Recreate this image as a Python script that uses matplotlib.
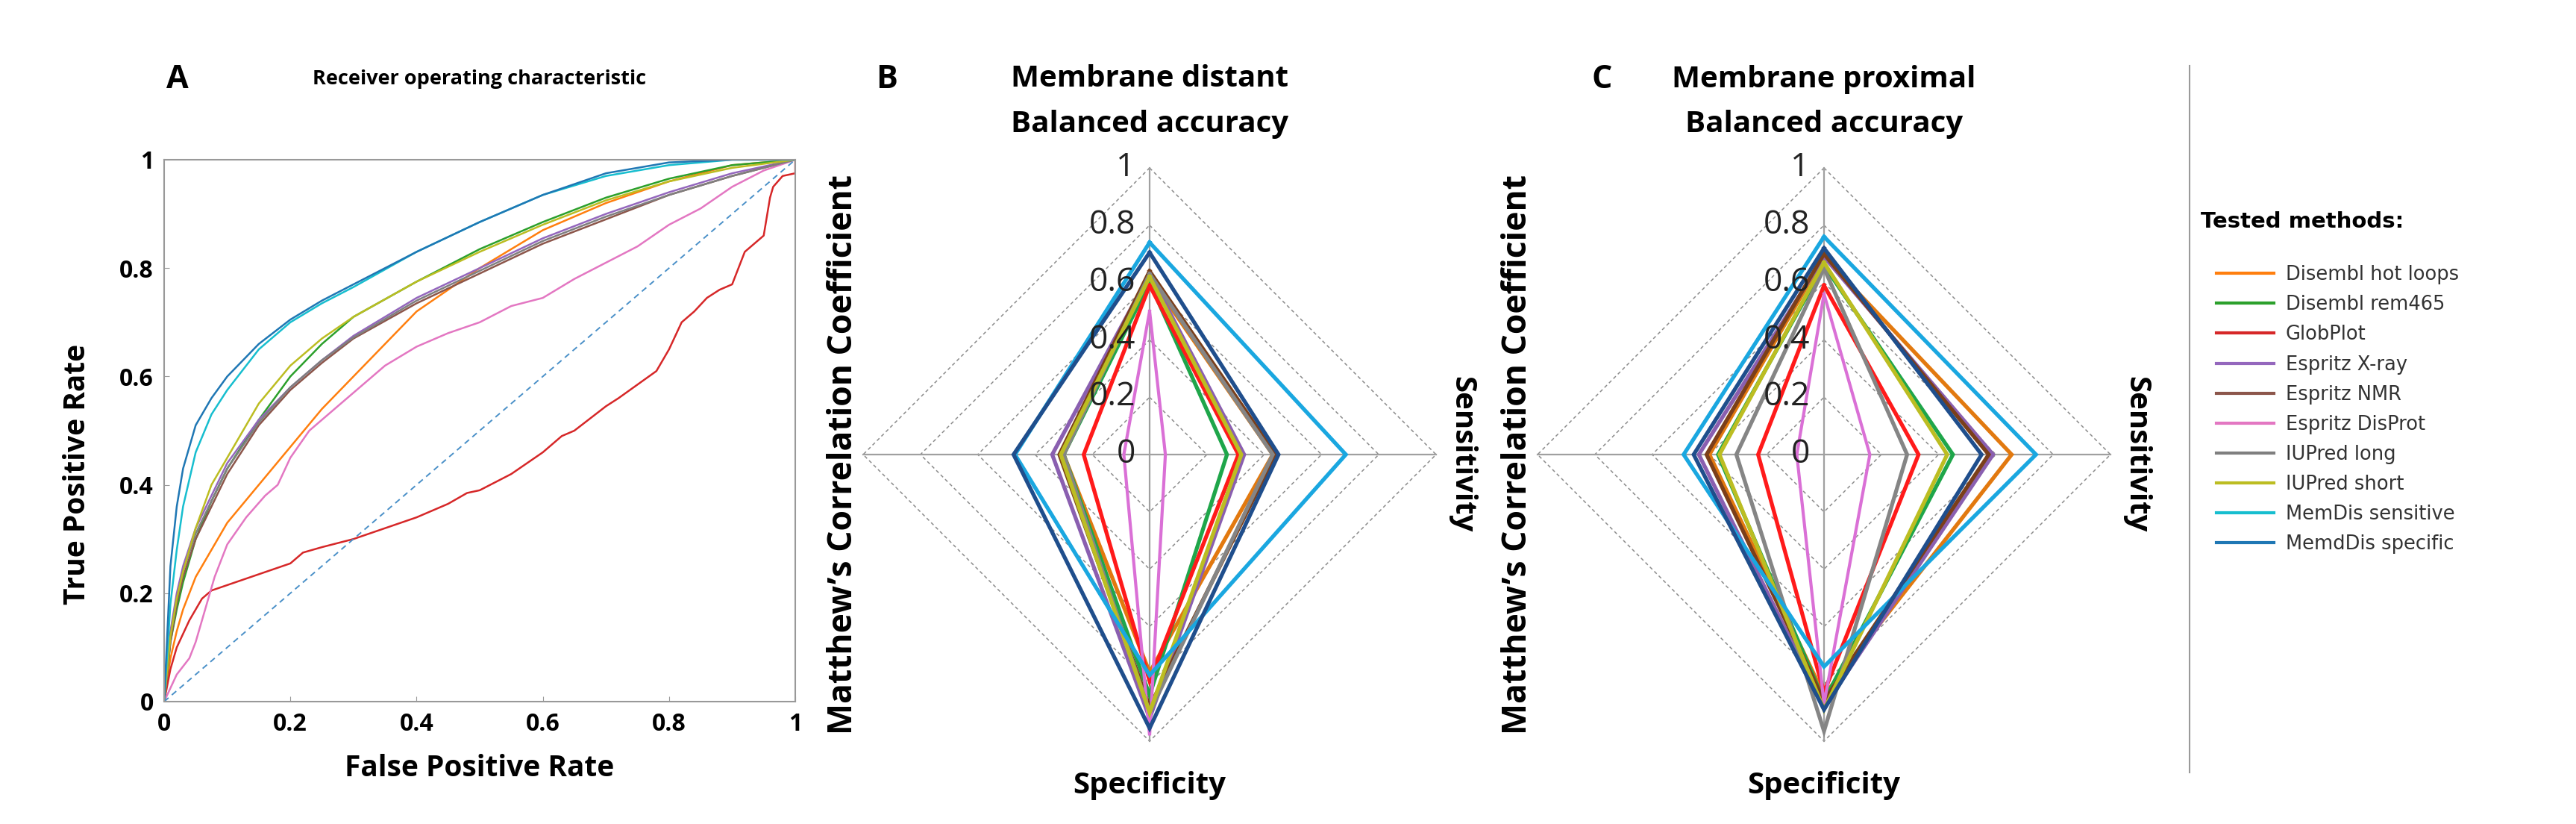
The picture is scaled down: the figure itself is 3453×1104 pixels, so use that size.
import matplotlib
matplotlib.use("Agg")
import matplotlib.pyplot as plt
import numpy as np

W, H = 3453, 1104

methods = ["Disembl hot loops", "Disembl rem465", "GlobPlot", "Espritz X-ray",
           "Espritz NMR", "Espritz DisProt", "IUPred long", "IUPred short",
           "MemDis sensitive", "MemdDis specific"]
roc_colors = ["tab:orange", "tab:green", "tab:red", "tab:purple", "tab:brown",
              "tab:pink", "tab:gray", "tab:olive", "tab:cyan", "tab:blue"]
radar_colors = ["#e2790f", "#1fa64a", "#ff1a1a", "#8a5fb0", "#7b3f1a",
                "#da70d6", "#858585", "#bcbd22", "#1aa7e0", "#1f4e8c"]

# ROC curves (FPR, TPR)
fpr_grid = [0, 0.01, 0.02, 0.03, 0.05, 0.075, 0.1, 0.15, 0.2, 0.25, 0.3,
            0.4, 0.5, 0.6, 0.7, 0.8, 0.9, 1.0]
tpr_hot_loops = [0, 0.08, 0.13, 0.17, 0.23, 0.28, 0.33, 0.40, 0.47, 0.54, 0.60,
                 0.72, 0.80, 0.87, 0.92, 0.96, 0.99, 1.0]
tpr_rem465 = [0, 0.11, 0.17, 0.22, 0.30, 0.37, 0.43, 0.52, 0.60, 0.66, 0.71,
              0.775, 0.835, 0.885, 0.93, 0.965, 0.99, 1.0]
tpr_xray = [0, 0.13, 0.20, 0.25, 0.32, 0.38, 0.44, 0.52, 0.58, 0.63, 0.675,
            0.745, 0.80, 0.855, 0.90, 0.94, 0.975, 1.0]
tpr_nmr = [0, 0.11, 0.18, 0.23, 0.30, 0.36, 0.42, 0.51, 0.575, 0.625, 0.67,
           0.735, 0.79, 0.845, 0.89, 0.935, 0.97, 1.0]
tpr_iupred_long = [0, 0.12, 0.19, 0.24, 0.31, 0.37, 0.43, 0.515, 0.58, 0.63, 0.672,
                   0.74, 0.795, 0.85, 0.895, 0.935, 0.97, 1.0]
tpr_iupred_short = [0, 0.12, 0.19, 0.24, 0.32, 0.40, 0.45, 0.55, 0.62, 0.67, 0.71,
                    0.775, 0.83, 0.88, 0.925, 0.96, 0.985, 1.0]
tpr_memdis_sens = [0, 0.18, 0.28, 0.36, 0.46, 0.53, 0.575, 0.65, 0.70, 0.735, 0.765,
                   0.83, 0.885, 0.935, 0.97, 0.99, 1.0, 1.0]
tpr_memdis_spec = [0, 0.25, 0.36, 0.43, 0.51, 0.56, 0.60, 0.66, 0.705, 0.74, 0.77,
                   0.83, 0.885, 0.935, 0.975, 0.995, 1.0, 1.0]

fpr_disprot = [0, 0.02, 0.04, 0.05, 0.06, 0.07, 0.08, 0.1, 0.13, 0.16, 0.18, 0.2,
               0.23, 0.26, 0.3, 0.35, 0.4, 0.45, 0.5, 0.55, 0.6, 0.65, 0.7, 0.75,
               0.8, 0.85, 0.9, 0.95, 1.0]
tpr_disprot = [0, 0.05, 0.08, 0.11, 0.15, 0.19, 0.23, 0.29, 0.34, 0.38, 0.40, 0.45,
               0.50, 0.53, 0.57, 0.62, 0.655, 0.68, 0.70, 0.73, 0.745, 0.78, 0.81,
               0.84, 0.88, 0.91, 0.95, 0.98, 1.0]

fpr_globplot = [0, 0.01, 0.02, 0.04, 0.06, 0.075, 0.1, 0.15, 0.2, 0.22, 0.25, 0.3,
                0.35, 0.4, 0.45, 0.48, 0.5, 0.55, 0.6, 0.63, 0.65, 0.7, 0.72, 0.75,
                0.78, 0.8, 0.82, 0.84, 0.86, 0.88, 0.9, 0.92, 0.93, 0.95, 0.96,
                0.965, 0.98, 1.0, 1.0]
tpr_globplot = [0, 0.06, 0.10, 0.15, 0.19, 0.205, 0.215, 0.235, 0.255, 0.275, 0.285,
                0.30, 0.32, 0.34, 0.365, 0.385, 0.39, 0.42, 0.46, 0.49, 0.50, 0.545,
                0.56, 0.585, 0.61, 0.65, 0.70, 0.72, 0.745, 0.76, 0.77, 0.83, 0.84,
                0.86, 0.93, 0.95, 0.97, 0.975, 1.0]

# radar values: balanced accuracy (top), sensitivity (right), specificity (bottom), MCC (left)
distant_bacc = [0.62, 0.60, 0.59, 0.63, 0.64, 0.50, 0.63, 0.62, 0.74, 0.705]
distant_sens = [0.43, 0.27, 0.31, 0.33, 0.44, 0.055, 0.43, 0.32, 0.685, 0.45]
distant_spec = [0.76, 0.84, 0.79, 0.92, 0.88, 0.98, 0.90, 0.90, 0.77, 0.955]
distant_mcc = [0.30, 0.30, 0.23, 0.34, 0.315, 0.09, 0.30, 0.31, 0.47, 0.475]

proximal_bacc = [0.69, 0.66, 0.59, 0.69, 0.70, 0.56, 0.65, 0.67, 0.76, 0.72]
proximal_sens = [0.655, 0.45, 0.33, 0.59, 0.575, 0.16, 0.29, 0.43, 0.74, 0.55]
proximal_spec = [0.84, 0.86, 0.83, 0.88, 0.86, 0.87, 0.965, 0.89, 0.74, 0.89]
proximal_mcc = [0.40, 0.37, 0.23, 0.437, 0.41, 0.095, 0.306, 0.365, 0.49, 0.455]

radar_ticks = [0, 0.2, 0.4, 0.6, 0.8, 1]

SANS = ["Open Sans", "DejaVu Sans"]


def fx(px):
    return px / W


def fy(py):
    return 1 - py / H


def draw_roc(fig):
    ax = fig.add_axes([fx(220), fy(940), fx(1066) - fx(220), fy(214) - fy(940)])
    curves = [
        (fpr_grid, tpr_hot_loops), (fpr_grid, tpr_rem465), (fpr_globplot, tpr_globplot),
        (fpr_grid, tpr_xray), (fpr_grid, tpr_nmr), (fpr_disprot, tpr_disprot),
        (fpr_grid, tpr_iupred_long), (fpr_grid, tpr_iupred_short),
        (fpr_grid, tpr_memdis_sens), (fpr_grid, tpr_memdis_spec),
    ]
    handles = []
    for (x, y), name, color in zip(curves, methods, roc_colors):
        line, = ax.plot(x, y, color=color, lw=1.8, label=name)
        handles.append(line)
    ax.plot([0, 1], [0, 1], color="#4a90c8", lw=1.4, ls=(0, (4, 3)))
    ax.set_xlim(0, 1)
    ax.set_ylim(0, 1)
    ticks = [0, 0.2, 0.4, 0.6, 0.8, 1]
    labels = ["0", "0.2", "0.4", "0.6", "0.8", "1"]
    ax.set_xticks(ticks, labels)
    ax.set_yticks(ticks, labels)
    for lab in ax.get_xticklabels() + ax.get_yticklabels():
        lab.set_family(SANS)
        lab.set_fontweight("bold")
        lab.set_fontsize(23)
    ax.tick_params(direction="in", length=5, color="#999999", pad=10)
    for sp in ax.spines.values():
        sp.set_color("#999999")
        sp.set_linewidth(1.5)
    ax.set_xlabel("False Positive Rate", family=SANS, fontweight="bold", fontsize=28)
    ax.set_ylabel("True Positive Rate", family=SANS, fontweight="bold", fontsize=28)
    ax.xaxis.set_label_coords(0.5, -0.096)
    ax.yaxis.set_label_coords(-0.115, 0.42)
    fig.text(fx(643), fy(106), "Receiver operating characteristic", family=SANS,
             fontweight="bold", fontsize=19.5, ha="center", va="center")
    fig.text(fx(238), fy(106), "A", family=SANS, fontweight="bold", fontsize=31,
             ha="center", va="center")
    return handles


def draw_radar(fig, cx, cy, radius, bacc, sens, spec, mcc, title, letter, letter_x):
    half = 1.12
    size = 2 * half * radius
    ax = fig.add_axes([fx(cx - size / 2), fy(cy + size / 2), fx(size), size / H])
    ax.set_xlim(-half, half)
    ax.set_ylim(-half, half)
    ax.axis("off")
    for r in radar_ticks[1:]:
        ax.plot([0, r, 0, -r, 0], [r, 0, -r, 0, r], color="#8c8c8c", lw=1.1,
                ls=(0, (3, 2.5)), zorder=1)
    ax.plot([0, 0], [-1, 1], color="#a0a0a0", lw=1.6, zorder=1)
    ax.plot([-1, 1], [0, 0], color="#a0a0a0", lw=1.6, zorder=1)
    for i, color in enumerate(radar_colors):
        xs = [0, sens[i], 0, -mcc[i], 0]
        ys = [bacc[i], 0, -spec[i], 0, bacc[i]]
        lw = 3.0 if i == 5 else 3.8
        ax.plot(xs, ys, color=color, lw=lw, zorder=2 + i, solid_joinstyle="miter")
    for t in radar_ticks:
        ax.text(-0.05, t, f"{t:g}", family=SANS, fontsize=32, ha="right", va="center",
                color="#222222", zorder=20)
    fig.text(fx(cx), fy(106), title, family=SANS, fontweight="bold", fontsize=29,
             ha="center", va="center")
    fig.text(fx(cx), fy(166), "Balanced accuracy", family=SANS, fontweight="bold",
             fontsize=29, ha="center", va="center")
    fig.text(fx(cx), fy(1053), "Specificity", family=SANS, fontweight="bold",
             fontsize=29, ha="center", va="center")
    ax.text(1.09, 0, "Sensitivity", family=SANS, fontweight="bold", fontsize=29,
            rotation=-90, ha="center", va="center")
    ax.text(-1.07, 0, "Matthew\u2019s Correlation Coefficient", family=SANS,
            fontweight="bold", fontsize=32, rotation=90, ha="center", va="center")
    fig.text(fx(letter_x), fy(106), letter, family=SANS, fontweight="bold", fontsize=31,
             ha="center", va="center")


def main():
    fig = plt.figure(figsize=(W / 100, H / 100), dpi=100)
    handles = draw_roc(fig)
    draw_radar(fig, 1541, 609, 384, distant_bacc, distant_sens, distant_spec,
               distant_mcc, "Membrane distant", "B", 1189)
    draw_radar(fig, 2445, 609, 384, proximal_bacc, proximal_sens, proximal_spec,
               proximal_mcc, "Membrane proximal", "C", 2147)

    fig.add_artist(plt.Line2D([fx(2935), fx(2935)], [fy(88), fy(1035)],
                              color="#9a9a9a", lw=1.5))
    fig.text(fx(2950), fy(297), "Tested methods:", fontweight="bold", fontsize=21,
             ha="left", va="center")
    leg = fig.legend(handles=handles, loc="upper left",
                     bbox_to_anchor=(fx(2948), fy(332)), frameon=False,
                     fontsize=18.5, handlelength=3.0, labelspacing=0.55,
                     handletextpad=0.6)
    for line in leg.get_lines():
        line.set_linewidth(3)
    for text in leg.get_texts():
        text.set_color("#333333")
    fig.savefig("out.png", dpi=100)


if __name__ == "__main__":
    main()
